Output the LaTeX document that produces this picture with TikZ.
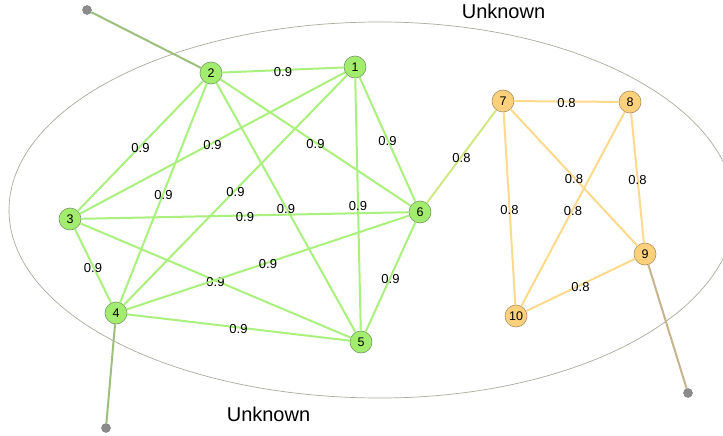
\documentclass[tikz,border=0pt]{standalone}
\usepackage{fontspec}
\setmainfont{Liberation Sans}
\definecolor{gfill}{HTML}{A2EC6E}
\definecolor{gborder}{HTML}{789868}
\definecolor{ofill}{HTML}{FDD17C}
\definecolor{oborder}{HTML}{A89062}
\definecolor{gline}{HTML}{AAF07C}
\definecolor{oline}{HTML}{FDD98C}
\definecolor{mixline}{HTML}{CFE883}
\definecolor{gstub}{HTML}{9DBF7E}
\definecolor{ostub}{HTML}{C6B48C}
\definecolor{dotgray}{HTML}{8C8C8C}
\definecolor{dotborder}{HTML}{777777}
\definecolor{ellcol}{HTML}{ABAB9E}
\begin{document}
\begin{tikzpicture}[x=1pt,y=-1pt,
  gnode/.style={circle,draw=gborder,fill=gfill,line width=0.6pt,minimum size=22pt,inner sep=0pt,font=\fontsize{12.5}{14}\selectfont},
  onode/.style={gnode,draw=oborder,fill=ofill},
  dotnode/.style={circle,fill=dotgray,draw=dotborder,line width=0.4pt,minimum size=9pt,inner sep=0pt},
  gedge/.style={draw=gline,line width=2pt},
  oedge/.style={draw=oline,line width=2pt},
  lbl/.style={font=\fontsize{13}{15}\selectfont,inner sep=0pt,yshift=-2pt},
  ttl/.style={font=\fontsize{20}{24}\selectfont,inner sep=0pt,anchor=base}
]
\useasboundingbox (0,0) rectangle (723,436);
\fill[white] (0,0) rectangle (723,436);
% container outline
\draw[ellcol,line width=0.7pt] (380,22)
  .. controls (576,22) and (735,106.2) .. (735,210)
  .. controls (735,313.8) and (576,398) .. (380,398)
  .. controls (175,398) and (9,313.8) .. (9,210)
  .. controls (9,106.2) and (175,22) .. cycle;
% nodes
\node[gnode] (n1) at (355,67) {1};
\node[gnode] (n2) at (211,73) {2};
\node[gnode] (n3) at (70,219) {3};
\node[gnode] (n4) at (116,313) {4};
\node[gnode] (n5) at (361,342) {5};
\node[gnode] (n6) at (420,212) {6};
\node[onode] (n7) at (503,101) {7};
\node[onode] (n8) at (630,102) {8};
\node[onode] (n9) at (645,254) {9};
\node[onode] (n10) at (516,316) {10};
\node[dotnode] (d2) at (87,10) {};
\node[dotnode] (d4) at (106,428) {};
\node[dotnode] (d9) at (688,393) {};
% stubs
\draw[gstub,line width=2pt] (n2) -- (d2);
\draw[gstub,line width=2pt] (n4) -- (d4);
\draw[ostub,line width=2pt] (n9) -- (d9);
% green edges
\draw[gedge] (n2) -- node[lbl]{0.9} (n1);
\draw[gedge] (n2) -- node[lbl]{0.9} (n3);
\draw[gedge] (n1) -- node[lbl]{0.9} (n3);
\draw[gedge] (n2) -- node[lbl]{0.9} (n6);
\draw[gedge] (n1) -- node[lbl]{0.9} (n6);
\draw[gedge] (n2) -- node[lbl]{0.9} (n4);
\draw[gedge] (n1) -- node[lbl]{0.9} (n4);
\draw[gedge] (n2) -- node[lbl]{0.9} (n5);
\draw[gedge] (n1) -- node[lbl]{0.9} (n5);
\draw[gedge] (n3) -- node[lbl]{0.9} (n6);
\draw[gedge] (n3) -- node[lbl]{0.9} (n4);
\draw[gedge] (n3) -- node[lbl]{0.9} (n5);
\draw[gedge] (n4) -- node[lbl]{0.9} (n6);
\draw[gedge] (n4) -- node[lbl]{0.9} (n5);
\draw[gedge] (n6) -- node[lbl]{0.9} (n5);
% bridge
\draw[draw=mixline,line width=2pt] (n6) -- node[lbl]{0.8} (n7);
% orange edges
\draw[oedge] (n7) -- node[lbl]{0.8} (n8);
\draw[oedge] (n7) -- node[lbl]{0.8} (n10);
\draw[oedge] (n7) -- node[lbl]{0.8} (n9);
\draw[oedge] (n8) -- node[lbl]{0.8} (n10);
\draw[oedge] (n8) -- node[lbl]{0.8} (n9);
\draw[oedge] (n9) -- node[lbl]{0.8} (n10);
% titles
\node[ttl] (t1) at (503.5,18.3) {Unknown};
\node[ttl] (t2) at (268.5,421.7) {Unknown};
\end{tikzpicture}
\end{document}
